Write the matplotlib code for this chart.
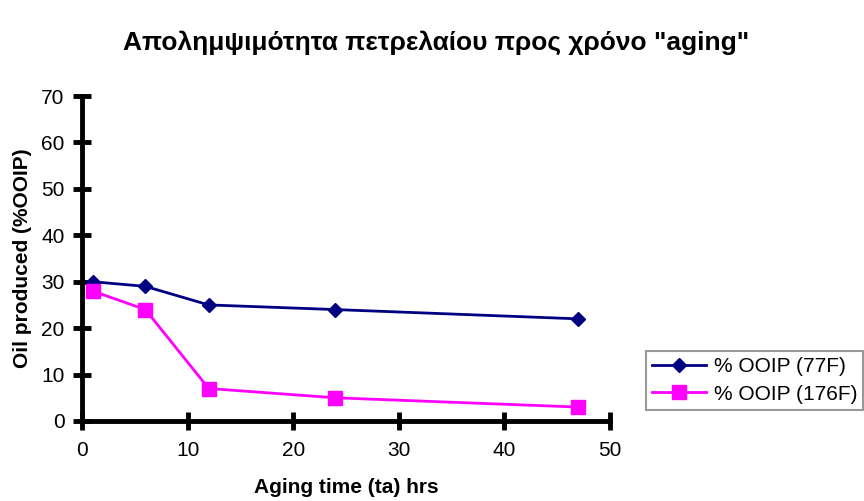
import matplotlib.pyplot as plt

plt.rcParams['font.family'] = ['Liberation Sans', 'DejaVu Sans']

# aging time (hrs) and recovery (% OOIP) at the two temperatures
aging_hrs = [1, 6, 12, 24, 47]
ooip_77f = [30, 29, 25, 24, 22]
ooip_176f = [28, 24, 7, 5, 3]

title = 'Απολημψιμότητα πετρελαίου προς χρόνο "aging"'
x_label = 'Aging time (ta) hrs'
y_label = 'Oil produced (%OOIP)'
series_labels = ['% OOIP (77F)', '% OOIP (176F)']

fig = plt.figure(figsize=(8.64, 5.01), dpi=100)
ax = fig.add_axes([82 / 864, 80 / 501, 528 / 864, 325 / 501])

ax.plot(aging_hrs, ooip_77f, color='#000080', marker='D', markersize=7.5,
        linewidth=2, label=series_labels[0], clip_on=False, zorder=3)
ax.plot(aging_hrs, ooip_176f, color='#FF00FF', marker='s', markersize=10,
        linewidth=2, label=series_labels[1], clip_on=False, zorder=3)

ax.set_xlim(0, 50)
ax.set_ylim(0, 70)
ax.set_xticks(range(0, 51, 10))
ax.set_yticks(range(0, 71, 10))

for side in ['top', 'right']:
    ax.spines[side].set_visible(False)
for side in ['left', 'bottom']:
    ax.spines[side].set_linewidth(3.5)
ax.tick_params(direction='inout', length=13, width=3.5, labelsize=15)
ax.tick_params(axis='x', pad=8)
ax.tick_params(axis='y', pad=6)

ax.set_xlabel(x_label, fontsize=15, fontweight='bold', labelpad=13)
ax.set_ylabel(y_label, fontsize=15, fontweight='bold', labelpad=7)
fig.text(0.505, 1 - 43 / 501, title, ha='center', va='center',
         fontsize=19, fontweight='bold')

leg = ax.legend(loc='upper left', bbox_to_anchor=(646 / 864, 1 - 351 / 501),
                bbox_transform=fig.transFigure, fontsize=15, frameon=True,
                fancybox=False, borderaxespad=0, handlelength=2.6,
                handletextpad=0.35, borderpad=0.3, labelspacing=0.4)
leg.get_frame().set_edgecolor('#808080')
leg.get_frame().set_linewidth(1.5)

fig.savefig('out.png', dpi=100)
